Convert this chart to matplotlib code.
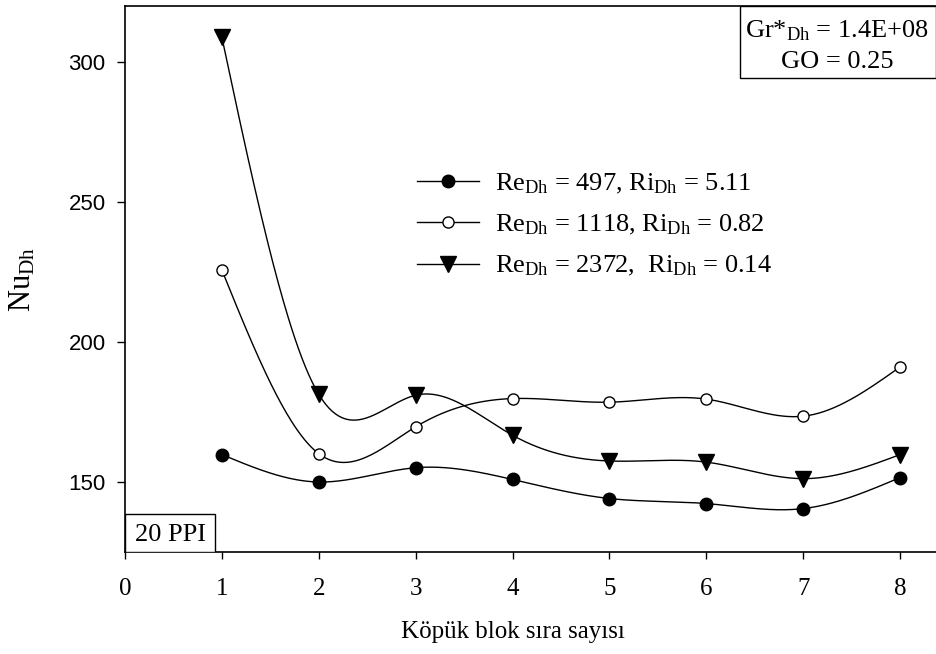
import numpy as np
import matplotlib
matplotlib.use("Agg")
import matplotlib.pyplot as plt
from matplotlib.patches import Rectangle

plt.rcParams['mathtext.fontset'] = 'custom'
plt.rcParams['mathtext.rm'] = 'Liberation Serif'
plt.rcParams['mathtext.it'] = 'Liberation Serif:italic'
plt.rcParams['font.family'] = ['Liberation Serif', 'DejaVu Serif']

x_blocks = [1, 2, 3, 4, 5, 6, 7, 8]
nu_re497 = [159.8, 150.0, 155.1, 150.9, 144.1, 142.3, 140.5, 151.6]
nu_re1118 = [225.7, 160.1, 169.7, 179.8, 178.5, 179.6, 173.5, 191.1]
nu_re2372 = [308.8, 181.3, 181.0, 166.7, 157.5, 157.1, 151.2, 159.8]

labels = [r'$\mathrm{Re}_{\mathrm{Dh}}$ = 497, $\mathrm{Ri}_{\mathrm{Dh}}$ = 5.11',
          r'$\mathrm{Re}_{\mathrm{Dh}}$ = 1118, $\mathrm{Ri}_{\mathrm{Dh}}$ = 0.82',
          r'$\mathrm{Re}_{\mathrm{Dh}}$ = 2372,  $\mathrm{Ri}_{\mathrm{Dh}}$ = 0.14']


def natural_spline(x, y, n=400):
    x = np.asarray(x, float)
    y = np.asarray(y, float)
    m = len(x)
    h = np.diff(x)
    A = np.zeros((m, m))
    b = np.zeros(m)
    A[0, 0] = 1
    A[-1, -1] = 1
    for i in range(1, m - 1):
        A[i, i - 1] = h[i - 1]
        A[i, i] = 2 * (h[i - 1] + h[i])
        A[i, i + 1] = h[i]
        b[i] = 6 * ((y[i + 1] - y[i]) / h[i] - (y[i] - y[i - 1]) / h[i - 1])
    M = np.linalg.solve(A, b)
    xs = np.linspace(x[0], x[-1], n)
    idx = np.clip(np.searchsorted(x, xs) - 1, 0, m - 2)
    x0 = x[idx]; x1 = x[idx + 1]; hh = x1 - x0
    ys = (M[idx] * (x1 - xs) ** 3 / (6 * hh) + M[idx + 1] * (xs - x0) ** 3 / (6 * hh)
          + (y[idx] / hh - M[idx] * hh / 6) * (x1 - xs)
          + (y[idx + 1] / hh - M[idx + 1] * hh / 6) * (xs - x0))
    return xs, ys


fig = plt.figure(figsize=(9.36, 6.54), dpi=100)
ax = fig.add_axes([125 / 936, 1 - 552 / 654, (936 - 125) / 936, (552 - 6) / 654])

styles = [dict(marker='o', mfc='black', mec='black', ms=9),
          dict(marker='o', mfc='white', mec='black', ms=8, mew=1.0),
          dict(marker='v', mfc='black', mec='black', ms=11)]

handles = []
for yv, st, lab in zip([nu_re497, nu_re1118, nu_re2372], styles, labels):
    xs, ys = natural_spline(x_blocks, yv)
    ax.plot(xs, ys, color='black', lw=1.0, zorder=2)
    ax.plot(x_blocks, yv, ls='none', zorder=3, **st)
    h, = ax.plot([], [], color='black', lw=1.0, label=lab, **st)
    handles.append(h)

ax.set_xlim(0, 8.37)
ax.set_ylim(125, 320)
ax.set_xticks(range(0, 9))
ax.set_yticks([150, 200, 250, 300])
ax.spines['right'].set_visible(False)
for s in ['left', 'top', 'bottom']:
    ax.spines[s].set_linewidth(1.2)

ax.tick_params(axis='x', direction='out', length=5, width=1, pad=14, labelsize=18)
ax.tick_params(axis='y', direction='out', length=6, width=1, pad=8, labelsize=16)
for t in ax.get_yticklabels():
    t.set_fontfamily('Liberation Sans')

ax.set_xlabel('Köpük blok sıra sayısı', fontsize=18, labelpad=15)
ax.xaxis.label.set_x(0.478)
ax.set_ylabel(r'$\mathrm{Nu}_{\mathrm{Dh}}$', fontsize=22, labelpad=22)

leg = ax.legend(handles=handles, loc='upper left', bbox_to_anchor=(0.36, 0.697),
                frameon=False, fontsize=19, handlelength=2.35, handletextpad=0.6,
                labelspacing=0.65, borderaxespad=0, borderpad=0)

# 20 PPI box
ax.add_patch(Rectangle((0, 0), 0.111, 0.0696, transform=ax.transAxes,
                       fc='white', ec='black', lw=1.0, zorder=4))
ax.text(0.0555, 0.032, '20 PPI', transform=ax.transAxes, fontsize=19,
        ha='center', va='center', zorder=5)

# top-right box
ax.add_patch(Rectangle((0.758, 0.868), 0.242, 0.132, transform=ax.transAxes,
                       fc='white', ec='black', lw=1.0, zorder=4, clip_on=False))
ax.text(0.878, 0.955, r'Gr*$_{\mathrm{Dh}}$ = 1.4E+08', transform=ax.transAxes,
        fontsize=19, ha='center', va='center', zorder=5)
ax.text(0.878, 0.897, 'GO = 0.25', transform=ax.transAxes,
        fontsize=19, ha='center', va='center', zorder=5)

fig.savefig('out.png', dpi=100)
